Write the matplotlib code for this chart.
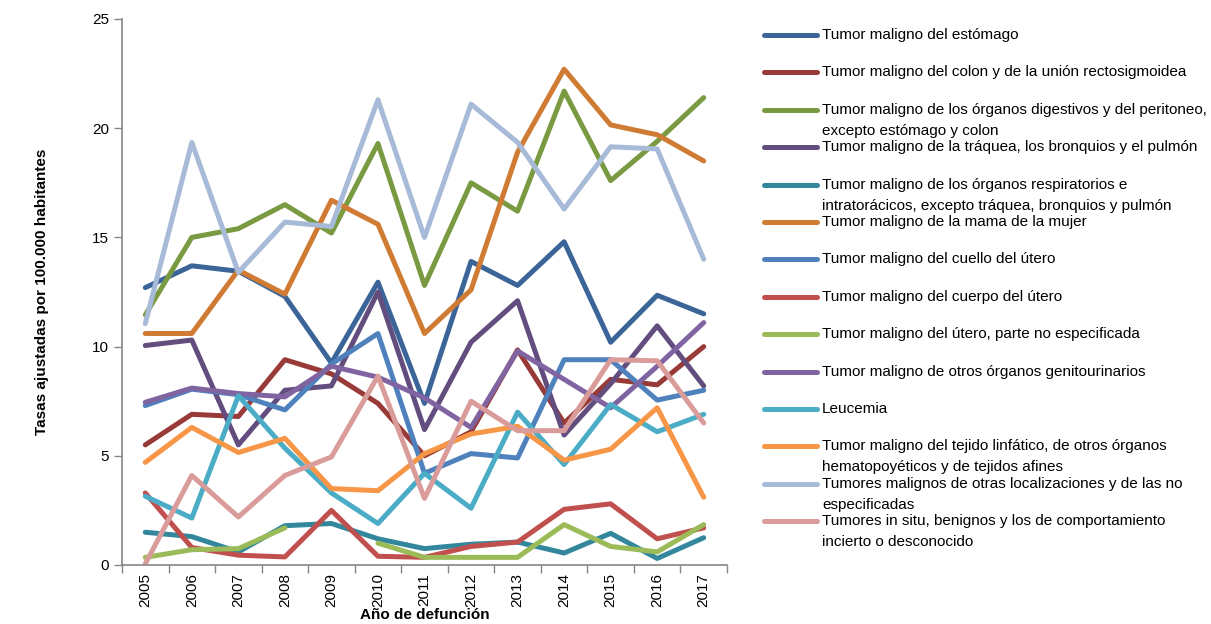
import matplotlib.pyplot as plt
import numpy as np
from matplotlib.lines import Line2D

plt.rcParams['font.family'] = ['Liberation Sans', 'DejaVu Sans']

years = np.arange(2005, 2018)

# tasas ajustadas por 100.000 habitantes
estomago = [12.7, 13.7, 13.45, 12.3, 9.25, 12.95, 7.4, 13.9, 12.8, 14.8, 10.2, 12.35, 11.5]
colon = [5.5, 6.9, 6.8, 9.4, 8.75, 7.4, 5.0, 6.1, 9.85, 6.5, 8.5, 8.25, 10.0]
digestivos = [11.45, 15.0, 15.4, 16.5, 15.2, 19.3, 12.8, 17.5, 16.2, 21.7, 17.6, 19.4, 21.4]
traquea = [10.05, 10.3, 5.5, 8.0, 8.2, 12.5, 6.2, 10.2, 12.1, 5.95, 8.3, 10.95, 8.2]
respiratorios = [1.5, 1.3, 0.6, 1.8, 1.9, 1.2, 0.75, 0.95, 1.05, 0.55, 1.45, 0.3, 1.25]
mama = [10.6, 10.6, 13.5, 12.4, 16.7, 15.6, 10.6, 12.6, 18.9, 22.7, 20.15, 19.7, 18.5]
cuello = [7.3, 8.05, 7.8, 7.1, 9.2, 10.6, 4.2, 5.1, 4.9, 9.4, 9.4, 7.55, 8.0]
cuerpo = [3.3, 0.8, 0.45, 0.37, 2.5, 0.4, 0.35, 0.85, 1.05, 2.55, 2.8, 1.2, 1.7]
utero_ne = [0.35, 0.7, 0.75, 1.7, np.nan, 1.0, 0.35, 0.35, 0.35, 1.85, 0.85, 0.6, 1.85]
genitourinarios = [7.45, 8.1, 7.85, 7.7, 9.1, 8.6, 7.65, 6.3, 9.8, 8.5, 7.2, 9.1, 11.1]
leucemia = [3.15, 2.15, 7.75, 5.35, 3.3, 1.9, 4.2, 2.6, 7.0, 4.6, 7.35, 6.1, 6.9]
linfatico = [4.7, 6.3, 5.15, 5.8, 3.5, 3.4, 5.1, 6.0, 6.35, 4.8, 5.3, 7.2, 3.1]
otras = [11.05, 19.35, 13.4, 15.7, 15.5, 21.3, 15.0, 21.1, 19.35, 16.3, 19.15, 19.05, 14.0]
in_situ = [0.05, 4.1, 2.2, 4.1, 4.95, 8.65, 3.05, 7.5, 6.15, 6.15, 9.4, 9.35, 6.5]

series = [estomago, colon, digestivos, traquea, respiratorios, mama, cuello, cuerpo,
          utero_ne, genitourinarios, leucemia, linfatico, otras, in_situ]
labels = [
    "Tumor maligno del estómago",
    "Tumor maligno del colon y de la unión rectosigmoidea",
    "Tumor maligno de los órganos digestivos y del peritoneo,\nexcepto estómago y colon",
    "Tumor maligno de la tráquea, los bronquios y el pulmón",
    "Tumor maligno de los órganos respiratorios e\nintratorácicos, excepto tráquea, bronquios y pulmón",
    "Tumor maligno de la mama de la mujer",
    "Tumor maligno del cuello del útero",
    "Tumor maligno del cuerpo del útero",
    "Tumor maligno del útero, parte no especificada",
    "Tumor maligno de otros órganos genitourinarios",
    "Leucemia",
    "Tumor maligno del tejido linfático, de otros órganos\nhematopoyéticos y de tejidos afines",
    "Tumores malignos de otras localizaciones y de las no\nespecificadas",
    "Tumores in situ, benignos y los de comportamiento\nincierto o desconocido",
]
colors = ["#3B6598", "#983A37", "#7A9A42", "#634C7E", "#33879C", "#D07B33", "#4F81BD",
          "#C0504D", "#9BBB59", "#8064A2", "#4BACC6", "#F79646", "#A7BAD7", "#D99C9A"]

W, H = 1211, 624
fig = plt.figure(figsize=(W / 100, H / 100), dpi=100)
ax = fig.add_axes([122 / W, 1 - 565 / H, 605 / W, 546 / H])

for vals, col in zip(series, colors):
    ax.plot(years, vals, color=col, lw=3.6, solid_joinstyle='round', solid_capstyle='round')

ax.set_xlim(2004.5, 2017.5)
ax.set_ylim(0, 25)
ax.set_yticks([0, 5, 10, 15, 20, 25])
ax.set_xticks(years)
ax.set_xticklabels([str(y) for y in years], rotation=90)
ax.set_xticks(np.arange(2004.5, 2018, 1), minor=True)
ax.tick_params(axis='x', which='major', length=0, pad=6, labelsize=11)
ax.tick_params(axis='x', which='minor', length=6, color='#868686', width=1)
ax.tick_params(axis='y', length=6, color='#868686', width=1, labelsize=11)

for s in ['top', 'right']:
    ax.spines[s].set_visible(False)
for s in ['left', 'bottom']:
    ax.spines[s].set_color('#868686')
    ax.spines[s].set_linewidth(1.2)

ax.set_xlabel("Año de defunción", fontsize=11, fontweight='bold', va='center')
ax.xaxis.set_label_coords(0.5, -0.091)
ax.set_ylabel("Tasas ajustadas por 100.000 habitantes", fontsize=11, fontweight='bold')
ax.yaxis.set_label_coords(-0.12, 0.5)

# leyenda a mano, al estilo de Excel
for i, (lab, col) in enumerate(zip(labels, colors)):
    ypx = 35 + i * 37.4
    y = 1 - ypx / H
    fig.add_artist(Line2D([764 / W, 817 / W], [y, y], transform=fig.transFigure,
                          color=col, lw=3.6, solid_capstyle='round'))
    for j, line in enumerate(lab.split("\n")):
        fig.text(822 / W, 1 - (ypx + j * 21) / H, line, fontsize=11, va='center', ha='left')

fig.savefig("out.png", dpi=100)
